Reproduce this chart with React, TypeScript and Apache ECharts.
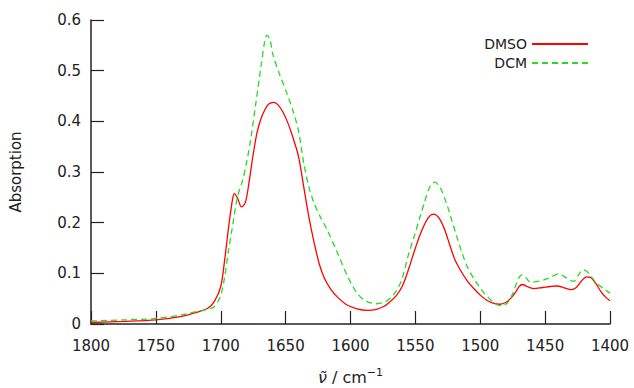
import React, { useEffect, useRef } from "react";
import * as echarts from "echarts";

const dmsoWn = [1800, 1775, 1750, 1730, 1720, 1710, 1705, 1700, 1697, 1694, 1691, 1689.5, 1687, 1684, 1681, 1678, 1675, 1672, 1669, 1666, 1663, 1659.5, 1656, 1652, 1648, 1644, 1640, 1636, 1632, 1628, 1624, 1620, 1615, 1610, 1603, 1595, 1587, 1580, 1574, 1570, 1565, 1560, 1555, 1550, 1545, 1540, 1536, 1532, 1528, 1524, 1520, 1515, 1510, 1505, 1500, 1495, 1490, 1485, 1480, 1476, 1473, 1470, 1467.5, 1464, 1459, 1452, 1446, 1441, 1436, 1430, 1426, 1422, 1418, 1415, 1411, 1407, 1403, 1400];
const dmsoAbs = [0.003, 0.005, 0.008, 0.015, 0.022, 0.031, 0.044, 0.074, 0.126, 0.19, 0.245, 0.258, 0.248, 0.231, 0.24, 0.283, 0.335, 0.378, 0.405, 0.423, 0.434, 0.4375, 0.433, 0.418, 0.395, 0.365, 0.33, 0.27, 0.21, 0.16, 0.118, 0.09, 0.068, 0.053, 0.038, 0.03, 0.027, 0.029, 0.035, 0.043, 0.055, 0.075, 0.11, 0.15, 0.185, 0.21, 0.217, 0.21, 0.19, 0.16, 0.13, 0.105, 0.085, 0.07, 0.057, 0.047, 0.041, 0.039, 0.043, 0.052, 0.062, 0.074, 0.078, 0.074, 0.07, 0.072, 0.074, 0.075, 0.072, 0.068, 0.072, 0.085, 0.093, 0.092, 0.08, 0.064, 0.052, 0.046];

const dcmWn = [1800, 1775, 1750, 1730, 1720, 1712, 1705, 1700, 1697, 1694, 1691, 1687, 1683, 1680, 1677, 1673, 1669, 1666, 1664.5, 1662, 1660, 1655, 1649, 1644, 1640, 1636, 1632, 1628, 1623, 1618, 1610, 1602, 1595, 1588, 1580, 1573, 1567, 1561, 1555, 1551, 1546, 1543, 1539, 1535, 1531, 1526, 1522, 1518, 1514, 1510, 1505, 1500, 1497, 1490, 1486, 1483, 1479, 1476, 1473, 1470, 1468, 1465, 1461, 1456, 1451, 1445, 1440, 1436, 1432, 1428, 1424, 1421, 1418, 1414, 1410, 1405, 1400];
const dcmAbs = [0.006, 0.008, 0.011, 0.018, 0.024, 0.028, 0.034, 0.057, 0.093, 0.146, 0.192, 0.252, 0.285, 0.32, 0.363, 0.435, 0.508, 0.56, 0.57, 0.56, 0.534, 0.495, 0.455, 0.418, 0.38, 0.317, 0.27, 0.238, 0.21, 0.186, 0.14, 0.093, 0.061, 0.045, 0.04, 0.044, 0.057, 0.084, 0.14, 0.172, 0.215, 0.24, 0.27, 0.28, 0.27, 0.238, 0.205, 0.172, 0.14, 0.113, 0.09, 0.071, 0.061, 0.043, 0.037, 0.036, 0.042, 0.054, 0.074, 0.092, 0.097, 0.092, 0.082, 0.084, 0.087, 0.093, 0.099, 0.095, 0.088, 0.084, 0.098, 0.107, 0.104, 0.092, 0.08, 0.07, 0.061];

const seriesNames = ["DMSO", "DCM"];
const xTicks = { min: 1400, max: 1800, interval: 50 };
const yTicks = { min: 0, max: 0.6, interval: 0.1 };

const FONT = "DejaVu Sans";

export default function App() {
  const ref = useRef<HTMLDivElement>(null);
  useEffect(() => {
    if (!ref.current) return;
    const chart = echarts.init(ref.current, undefined, { renderer: "svg" });
    const dmso = dmsoWn.map((w, i) => [w, dmsoAbs[i]]);
    const dcm = dcmWn.map((w, i) => [w, dcmAbs[i]]);
    chart.setOption({
      animation: false,
      backgroundColor: "#ffffff",
      grid: { left: 91, right: 24, top: 20, bottom: 64, outerBoundsMode: "none", containLabel: false },
      legend: {
        orient: "vertical",
        right: 40,
        top: 32,
        align: "right",
        itemWidth: 56,
        itemHeight: 12,
        itemGap: 5,
        itemStyle: { opacity: 0 },
        textStyle: { fontFamily: FONT, fontSize: 14, color: "#222" },
        data: seriesNames,
      },
      xAxis: {
        type: "value",
        inverse: true,
        min: xTicks.min,
        max: xTicks.max,
        interval: xTicks.interval,
        name: "{i|ν̃} / cm{sup|−1}",
        nameLocation: "middle",
        nameGap: 43,
        nameTextStyle: {
          fontFamily: FONT,
          fontSize: 16,
          color: "#222",
          rich: {
            i: { fontFamily: FONT, fontSize: 16, fontStyle: "italic", color: "#222" },
            sup: { fontFamily: FONT, fontSize: 11, color: "#222", padding: [0, 0, 9, 0] },
          },
        },
        axisLine: { lineStyle: { color: "#222", width: 1.5 } },
        axisTick: { inside: true, length: 13, lineStyle: { color: "#222", width: 1.2 } },
        axisLabel: {
          fontFamily: FONT,
          fontSize: 15,
          color: "#222",
          margin: 14,
          formatter: (v: number) => String(v),
        },
        splitLine: { show: false },
      },
      yAxis: {
        type: "value",
        min: yTicks.min,
        max: yTicks.max,
        interval: yTicks.interval,
        name: "Absorption",
        nameLocation: "middle",
        nameGap: 68,
        nameTextStyle: { fontFamily: FONT, fontSize: 15, color: "#222" },
        axisLine: { show: true, lineStyle: { color: "#222", width: 1.5 } },
        axisTick: { show: true, inside: true, length: 13, lineStyle: { color: "#222", width: 1.2 } },
        axisLabel: {
          fontFamily: FONT,
          fontSize: 15,
          color: "#222",
          margin: 10,
          formatter: (v: number) => (v === 0 ? "0" : v.toFixed(1)),
        },
        splitLine: { show: false },
      },
      series: [
        {
          name: seriesNames[0],
          type: "line",
          data: dmso,
          smooth: 0.3,
          symbol: "none",
          lineStyle: { color: "#ff0000", width: 1.3 },
          itemStyle: { color: "#ff0000" },
        },
        {
          name: seriesNames[1],
          type: "line",
          data: dcm,
          smooth: 0.3,
          symbol: "none",
          lineStyle: { color: "#22dd22", width: 1.3, type: [6, 4] },
          itemStyle: { color: "#22dd22" },
        },
      ],
    });
    return () => chart.dispose();
  }, []);
  return (
    <div
      ref={ref}
      style={{ position: "absolute", left: 0, top: 0, width: 634, height: 388 }}
    />
  );
}
